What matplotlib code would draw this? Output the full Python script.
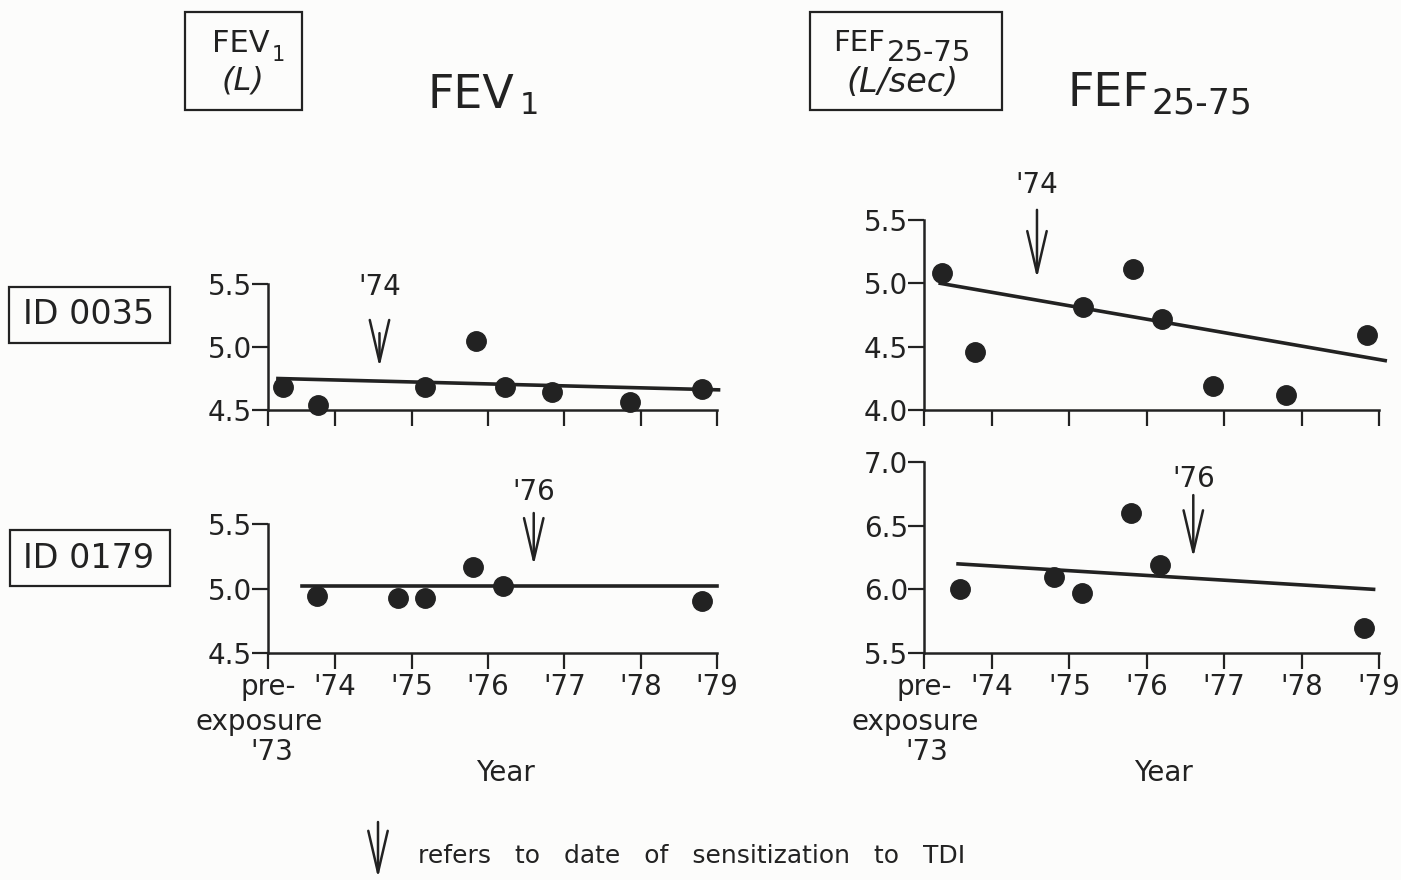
import matplotlib.pyplot as plt
from matplotlib.patches import Rectangle, FancyArrowPatch

W, H = 1401, 880
ink = '#222222'

# visit dates (year) and values
fev_yr_0035 = [73.32, 73.77, 75.17, 75.84, 76.22, 76.84, 77.86, 78.81]
fev_0035 = [4.68, 4.54, 4.68, 5.05, 4.68, 4.64, 4.56, 4.67]
fef_yr_0035 = [73.35, 73.78, 75.17, 75.82, 76.19, 76.85, 77.80, 78.84]
fef_0035 = [5.08, 4.46, 4.81, 5.11, 4.72, 4.19, 4.12, 4.59]

fev_yr_0179 = [73.76, 74.82, 75.17, 75.80, 76.20, 78.81]
fev_0179 = [4.94, 4.93, 4.93, 5.17, 5.02, 4.90]
fef_yr_0179 = [73.59, 74.80, 75.16, 75.79, 76.17, 78.80]
fef_0179 = [6.00, 6.10, 5.97, 6.60, 6.19, 5.70]

# trend lines (end points)
fev_fit_x_0035, fev_fit_y_0035 = [73.25, 79.02], [4.75, 4.66]
fef_fit_x_0035, fef_fit_y_0035 = [73.33, 79.08], [5.00, 4.39]
fev_fit_x_0179, fev_fit_y_0179 = [73.56, 79.00], [5.02, 5.02]
fef_fit_x_0179, fef_fit_y_0179 = [73.56, 78.93], [6.20, 6.00]

# date of sensitization to TDI
sens_0035, sens_label_0035 = 74.58, "'74"
sens_0179, sens_label_0179 = 76.60, "'76"

year_ticks = [73.12, 74, 75, 76, 77, 78, 79]
year_labels = ["pre-", "'74", "'75", "'76", "'77", "'78", "'79"]

yt_fev = [4.5, 5.0, 5.5]
yt_fef_0035 = [4.0, 4.5, 5.0, 5.5]
yt_fef_0179 = [5.5, 6.0, 6.5, 7.0]


def fx(x):
    return x / W


def fy(y):
    return 1 - y / H


def px_axes(x0, y0, x1, y1):
    return fig.add_axes([fx(x0), fy(y1), (x1 - x0) / W, (y1 - y0) / H])


def style(ax, yticks, show_x):
    ax.set_xlim(year_ticks[0], year_ticks[-1])
    ax.set_ylim(yticks[0], yticks[-1])
    for s in ['top', 'right']:
        ax.spines[s].set_visible(False)
    for s in ['left', 'bottom']:
        ax.spines[s].set_linewidth(1.8)
        ax.spines[s].set_color(ink)
    ax.set_xticks(year_ticks)
    ax.set_yticks(yticks)
    ax.set_yticklabels(['%.1f' % v for v in yticks])
    if show_x:
        ax.set_xticklabels(year_labels)
    else:
        ax.set_xticklabels([])
    ax.tick_params(direction='out', length=11.5, width=1.6, color=ink,
                   labelsize=20, labelcolor=ink)
    ax.tick_params(axis='x', pad=3)
    ax.tick_params(axis='y', pad=0)
    ax.patch.set_alpha(0)


def panel(ax, xs, ys, fx_, fy_, sens, sens_lab, tail, head, laby):
    ax.plot(fx_, fy_, color=ink, lw=2.6, clip_on=False, zorder=2)
    ax.plot(xs, ys, 'o', color=ink, ms=14, clip_on=False, zorder=3)
    ax.annotate('', xy=(sens, head), xytext=(sens, tail),
                arrowprops=dict(arrowstyle='->,head_length=1.5,head_width=0.35',
                                lw=1.8, color=ink, mutation_scale=20,
                                shrinkA=0, shrinkB=0),
                annotation_clip=False)
    ax.text(sens, laby, sens_lab, ha='center', va='center', fontsize=20, color=ink)


fig = plt.figure(figsize=(W / 100, H / 100), dpi=100)
fig.patch.set_facecolor('#fcfcfb')

ax1 = px_axes(268, 284, 717, 410)
ax2 = px_axes(268, 524, 717, 653)
ax3 = px_axes(924, 220, 1379, 410)
ax4 = px_axes(924, 462, 1379, 653)

style(ax1, yt_fev, False)
style(ax2, yt_fev, True)
style(ax3, yt_fef_0035, False)
style(ax4, yt_fef_0179, True)

panel(ax1, fev_yr_0035, fev_0035, fev_fit_x_0035, fev_fit_y_0035,
      sens_0035, sens_label_0035, 5.11, 4.84, 5.48)
panel(ax2, fev_yr_0179, fev_0179, fev_fit_x_0179, fev_fit_y_0179,
      sens_0179, sens_label_0179, 5.585, 5.18, 5.75)
panel(ax3, fef_yr_0035, fef_0035, fef_fit_x_0035, fef_fit_y_0035,
      sens_0035, sens_label_0035, 5.58, 5.04, 5.78)
panel(ax4, fef_yr_0179, fef_0179, fef_fit_x_0179, fef_fit_y_0179,
      sens_0179, sens_label_0179, 6.74, 6.25, 6.87)

# rest of the pre-exposure tick label
for xc, xc73 in [(259, 272), (915, 927)]:
    fig.text(fx(xc), fy(722), 'exposure', ha='center', va='center', fontsize=20, color=ink)
    fig.text(fx(xc73), fy(752), "'73", ha='center', va='center', fontsize=20, color=ink)

# x axis titles
fig.text(fx(505), fy(773), 'Year', ha='center', va='center', fontsize=20, color=ink)
fig.text(fx(1163), fy(773), 'Year', ha='center', va='center', fontsize=20, color=ink)


def box(x0, y0, x1, y1):
    fig.patches.append(Rectangle((fx(x0), fy(y1)), (x1 - x0) / W, (y1 - y0) / H,
                                 transform=fig.transFigure, fill=False,
                                 ec=ink, lw=1.6))


# unit boxes
box(185, 12, 302, 110)
fig.text(fx(212), fy(43), 'FEV', ha='left', va='center', fontsize=22, color=ink)
fig.text(fx(272), fy(55), '1', ha='left', va='center', fontsize=15, color=ink)
fig.text(fx(243), fy(81), '(L)', ha='center', va='center', fontsize=23,
         style='italic', color=ink)

box(810, 12, 1002, 110)
fig.text(fx(833), fy(43), 'FEF', ha='left', va='center', fontsize=21, color=ink)
fig.text(fx(887), fy(53), '25-75', ha='left', va='center', fontsize=21, color=ink)
fig.text(fx(902), fy(82), '(L/sec)', ha='center', va='center', fontsize=24,
         style='italic', color=ink)

# big titles
fig.text(fx(427), fy(95), 'FEV', ha='left', va='center', fontsize=33, color=ink)
fig.text(fx(520), fy(106), '1', ha='left', va='center', fontsize=22, color=ink)
fig.text(fx(1068), fy(94), 'FEF', ha='left', va='center', fontsize=33, color=ink)
fig.text(fx(1152), fy(103), '25-75', ha='left', va='center', fontsize=25, color=ink)

# subject boxes
box(9, 287, 170, 343)
fig.text(fx(89), fy(315), 'ID 0035', ha='center', va='center', fontsize=24, color=ink)
box(10, 530, 170, 586)
fig.text(fx(89), fy(558), 'ID 0179', ha='center', va='center', fontsize=24, color=ink)

# footnote
fig.patches.append(FancyArrowPatch(
    (fx(378), fy(822)), (fx(378), fy(878)), transform=fig.transFigure,
    arrowstyle='->,head_length=1.5,head_width=0.35', mutation_scale=20,
    lw=1.8, color=ink, shrinkA=0, shrinkB=0))
fig.text(fx(418), fy(856), 'refers   to   date   of   sensitization   to   TDI',
         ha='left', va='center', fontsize=18, color=ink)

fig.savefig('out.png', dpi=100, facecolor=fig.get_facecolor())
